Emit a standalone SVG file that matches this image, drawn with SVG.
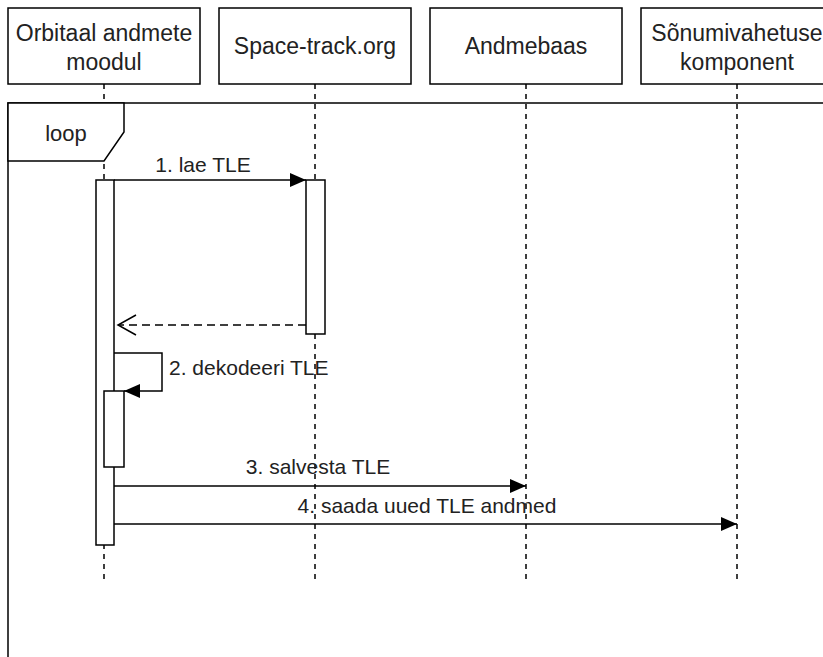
<svg xmlns="http://www.w3.org/2000/svg" width="823" height="657" viewBox="0 0 823 657">
<style>
  .box { fill: #fff; stroke: #000; stroke-width: 1.5; }
  .hdr { font-family: "Liberation Sans", Arial, sans-serif; font-size: 23px; fill: #222; text-anchor: middle; }
  .lbl { font-family: "Liberation Sans", Arial, sans-serif; font-size: 21px; fill: #222; text-anchor: middle; }
  .life { stroke: #000; stroke-width: 1.5; stroke-dasharray: 5 5; fill: none; }
  .msg { stroke: #000; stroke-width: 1.5; fill: none; }
  .ret { stroke: #000; stroke-width: 1.5; fill: none; stroke-dasharray: 8 5; }
  .act { fill: #fff; stroke: #000; stroke-width: 1.5; }
</style>
<defs>
  <marker id="filled" markerWidth="16" markerHeight="14" refX="16" refY="7" orient="auto" markerUnits="userSpaceOnUse">
    <path d="M0,0 L16,7 L0,14 Z" fill="#000"/>
  </marker>
  <marker id="open" markerWidth="22" markerHeight="24" refX="20" refY="12" orient="auto" markerUnits="userSpaceOnUse">
    <path d="M2,2 L20,12 L2,22" fill="none" stroke="#000" stroke-width="1.5"/>
  </marker>
</defs>
<rect x="0" y="0" width="823" height="657" fill="#fff"/>

<g id="lifelines">
  <line class="life" x1="104" y1="84" x2="104" y2="583"/>
  <line class="life" x1="315" y1="84" x2="315" y2="583"/>
  <line class="life" x1="526" y1="84" x2="526" y2="583"/>
  <line class="life" x1="737" y1="84" x2="737" y2="583"/>
</g>

<g id="loop">
  <rect x="8" y="103" width="830" height="570" fill="none" stroke="#000" stroke-width="1.5"/>
  <path d="M8,103 L124,103 L124,132 L104,161 L8,161 Z" fill="#fff" stroke="#000" stroke-width="1.5"/>
  <text class="lbl" x="66" y="141" style="font-size:22px">loop</text>
</g>

<g id="p1">
  <rect class="box" x="8" y="8" width="192" height="76"/>
  <text class="hdr" x="104" y="41">Orbitaal andmete</text>
  <text class="hdr" x="104" y="70">moodul</text>
</g>
<g id="p2">
  <rect class="box" x="219" y="8" width="192" height="76"/>
  <text class="hdr" x="315" y="54">Space-track.org</text>
</g>
<g id="p3">
  <rect class="box" x="430" y="8" width="192" height="76"/>
  <text class="hdr" x="526" y="54">Andmebaas</text>
</g>
<g id="p4">
  <rect class="box" x="641" y="8" width="192" height="76"/>
  <text class="hdr" x="737" y="41">Sõnumivahetuse</text>
  <text class="hdr" x="737" y="70">komponent</text>
</g>

<g id="act1"><rect class="act" x="96" y="180" width="18" height="365"/></g>
<g id="act2"><rect class="act" x="306" y="180" width="19" height="154"/></g>
<g id="act3"><rect class="act" x="104" y="391" width="20" height="76"/></g>

<g id="connectors">
  <line class="msg" x1="114" y1="180" x2="306" y2="180" marker-end="url(#filled)"/>
  <line class="ret" x1="306" y1="325" x2="118" y2="325" marker-end="url(#open)"/>
  <path class="msg" d="M114,353 L162,353 L162,391 L124,391" marker-end="url(#filled)"/>
  <line class="msg" x1="114" y1="486" x2="526" y2="486" marker-end="url(#filled)"/>
  <line class="msg" x1="114" y1="524" x2="737" y2="524" marker-end="url(#filled)"/>
</g>

<g id="labels">
  <text class="lbl" x="203" y="172">1. lae TLE</text>
  <text class="lbl" x="169" y="375" style="text-anchor:start">2. dekodeeri TLE</text>
  <text class="lbl" x="318" y="474">3. salvesta TLE</text>
  <text class="lbl" x="427" y="513">4. saada uued TLE andmed</text>
</g>
</svg>
